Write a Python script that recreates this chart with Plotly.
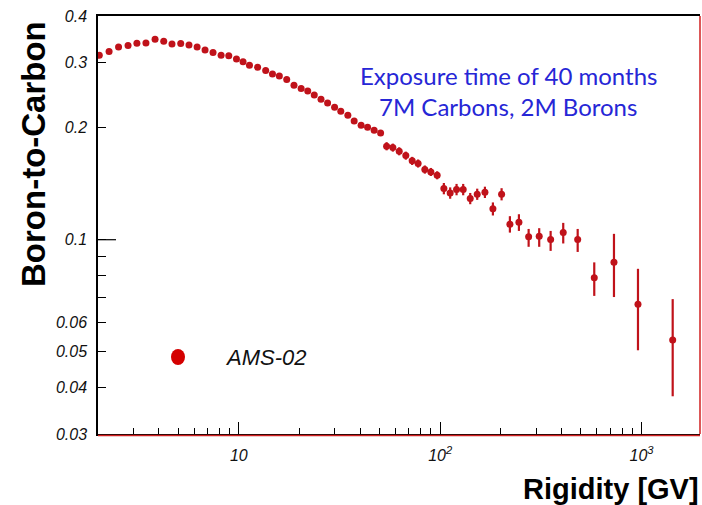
import math
import plotly.graph_objects as go

# ---- data ----
rigidity = [2.03, 2.27, 2.53, 2.82, 3.12, 3.46, 3.84, 4.24, 4.66, 5.15,
            5.66, 6.21, 6.80, 7.45, 8.17, 8.92, 9.74, 10.5, 11.3, 12.4,
            13.6, 14.7, 15.9, 17.3, 18.8, 20.4, 22.0, 23.7, 25.6, 27.6,
            29.9, 32.1, 34.8, 37.4, 40.5, 43.6, 47.0, 50.6, 54.2, 58.2,
            62.6, 67.5, 72.6, 77.7, 83.9, 89.9, 96.6, 104.3, 112.1, 120.6,
            130.1, 141.0, 152.7, 166.8, 182.7, 201.8, 221.9, 246.0, 274.9, 310.2,
            353.5, 408.3, 481.6, 582.1, 729.3, 959.6, 1427.0]

bc_ratio = [0.3135, 0.3208, 0.3301, 0.3330, 0.3378, 0.3384, 0.3462, 0.3420, 0.3363, 0.3371,
            0.3342, 0.3301, 0.3240, 0.3188, 0.3135, 0.3129, 0.3063, 0.3012, 0.2947, 0.2911,
            0.2852, 0.2793, 0.2758, 0.2698, 0.2604, 0.2551, 0.2514, 0.2452, 0.2388, 0.2333,
            0.2272, 0.2217, 0.2163, 0.2087, 0.2033, 0.2008, 0.1970, 0.1938, 0.1785, 0.1770,
            0.1730, 0.1684, 0.1630, 0.1604, 0.1545, 0.1522, 0.1491, 0.1373, 0.1336, 0.1365,
            0.1365, 0.1291, 0.1326, 0.1342, 0.1211, 0.1326, 0.1101, 0.1115, 0.1018, 0.1022,
            0.1002, 0.1045, 0.1002, 0.0790, 0.0869, 0.0670, 0.0537]

err_up = [0.002] * 20 + [0.003] * 18 + \
         [0.0045, 0.0044, 0.0043, 0.0042, 0.0041, 0.0040, 0.0039, 0.0038, 0.0037,
          0.0048, 0.0047, 0.0048, 0.0048, 0.0045, 0.0046, 0.0047, 0.0049, 0.0050,
          0.0056, 0.0056, 0.0051, 0.0052, 0.0054, 0.0065, 0.0067, 0.0079, 0.0168, 0.0165, 0.0155]

err_down = [0.002] * 20 + [0.003] * 18 + \
           [0.0045, 0.0044, 0.0043, 0.0042, 0.0041, 0.0040, 0.0039, 0.0038, 0.0037,
            0.0048, 0.0047, 0.0048, 0.0048, 0.0045, 0.0046, 0.0047, 0.0049, 0.0050,
            0.0056, 0.0059, 0.0061, 0.0065, 0.0069, 0.0068, 0.0075, 0.0084, 0.0168, 0.0166, 0.0158]

y_tickvals = [0.03, 0.04, 0.05, 0.06, 0.1, 0.2, 0.3, 0.4]
y_ticktext = ["0.03", "0.04", "0.05", "0.06", "0.1", "0.2", "0.3", "0.4"]
y_minor = [0.07, 0.08, 0.09]
x_tickvals = [10, 100, 1000]
x_ticktext = ["10", "10<sup>2</sup>", "10<sup>3</sup>"]
x_minor = [2, 3, 4, 5, 6, 7, 8, 9, 20, 30, 40, 50, 60, 70, 80, 90,
           200, 300, 400, 500, 600, 700, 800, 900]

x_range = [2.0, 1950.0]
y_range = [0.03, 0.4]

# ---- styling ----
W, H = 702, 505
ML, MR, MT, MB = 98, 2, 16, 71
PW, PH = W - ML - MR, H - MT - MB
RED = "#c0121a"
BLUE = "#2626d6"
FONT = "Liberation Sans"


def px(xp):
    return (xp - ML) / PW


def py(yp):
    return (H - MB - yp) / PH


fig = go.Figure()
fig.add_trace(go.Scatter(
    x=rigidity, y=bc_ratio, mode="markers",
    marker=dict(color=RED, size=7),
    error_y=dict(type="data", symmetric=False, array=err_up, arrayminus=err_down,
                 color=RED, thickness=2.2, width=0),
    showlegend=False,
))

fig.update_layout(
    width=W, height=H,
    margin=dict(l=ML, r=MR, t=MT, b=MB),
    paper_bgcolor="white", plot_bgcolor="white",
    font=dict(family=FONT, color="black"),
    showlegend=False,
)

fig.update_xaxes(
    type="log", range=[math.log10(x_range[0]), math.log10(x_range[1])],
    showgrid=False, zeroline=False,
    showline=True, linecolor="black", linewidth=1.5, mirror=True,
    tickmode="array", tickvals=x_tickvals, ticktext=x_ticktext,
    ticks="inside", ticklen=12, tickwidth=1.2, tickcolor="black",
    tickfont=dict(family=FONT, size=16, style="italic", color="#111"),
    ticklabelstandoff=6,
    minor=dict(tickmode="array", tickvals=x_minor, ticks="inside", ticklen=6,
               tickwidth=1.2, tickcolor="black", showgrid=False),
)
fig.update_yaxes(
    type="log", range=[math.log10(y_range[0]), math.log10(y_range[1])],
    showgrid=False, zeroline=False,
    showline=True, linecolor="black", linewidth=1.5, mirror=False,
    tickmode="array", tickvals=y_tickvals, ticktext=y_ticktext,
    ticks="inside", ticklen=8, tickwidth=1.2, tickcolor="black",
    tickfont=dict(family=FONT, size=16, style="italic", color="#111"),
    ticklabelstandoff=6,
    minor=dict(tickmode="array", tickvals=y_minor, ticks="inside", ticklen=8,
               tickwidth=1.2, tickcolor="black", showgrid=False),
)

# long tick at 0.1
y01 = (math.log10(0.1) - math.log10(y_range[0])) / (math.log10(y_range[1]) - math.log10(y_range[0]))
fig.add_shape(type="line", xref="paper", yref="paper", x0=0, x1=18 / PW, y0=y01, y1=y01,
              line=dict(color="black", width=1.2))
# red frame edges (bottom, right)
fig.add_shape(type="line", xref="paper", yref="paper", x0=0, x1=1, y0=-1.5 / PH, y1=-1.5 / PH,
              line=dict(color="#d02020", width=1.5))
fig.add_shape(type="line", xref="paper", yref="paper", x0=1, x1=1, y0=0, y1=1,
              line=dict(color="#d02020", width=1.5))

# legend symbol
fig.add_shape(type="circle", xref="paper", yref="paper",
              x0=px(171), x1=px(185), y0=py(365), y1=py(349),
              fillcolor="#d40000", line=dict(color="#d40000", width=0))
fig.add_annotation(x=px(223), y=py(357), xref="paper", yref="paper", xanchor="left",
                   yanchor="middle", showarrow=False, text="AMS-02",
                   font=dict(family=FONT, size=22, style="italic", color="#111"))

# info text
fig.add_annotation(x=px(508), y=py(75), xref="paper", yref="paper", xanchor="center",
                   yanchor="middle", showarrow=False, text="Exposure time of 40 months",
                   font=dict(family="Lato", size=24, color=BLUE))
fig.add_annotation(x=px(508), y=py(106), xref="paper", yref="paper", xanchor="center",
                   yanchor="middle", showarrow=False, text="7M Carbons, 2M Borons",
                   font=dict(family="Lato", size=24, color=BLUE))

# axis titles
fig.add_annotation(x=px(34), y=py(154), xref="paper", yref="paper", xanchor="center",
                   yanchor="middle", showarrow=False, text="<b>Boron-to-Carbon</b>",
                   textangle=-90, font=dict(family=FONT, size=33, color="black"))
fig.add_annotation(x=px(701), y=py(489), xref="paper", yref="paper", xanchor="right",
                   yanchor="middle", showarrow=False, text="<b>Rigidity [GV]</b>",
                   font=dict(family=FONT, size=29, color="black"))

fig.write_html("out.html")
